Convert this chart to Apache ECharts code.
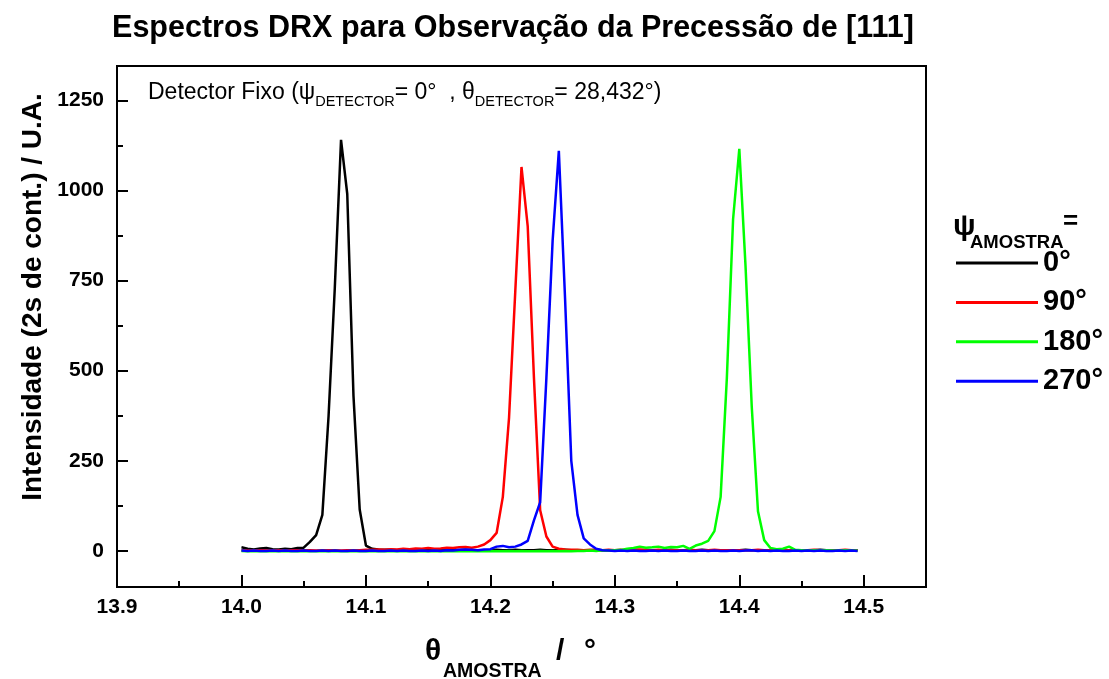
<!DOCTYPE html>
<html>
<head>
<meta charset="utf-8">
<script src="https://cdn.jsdelivr.net/npm/echarts@6/dist/echarts.min.js"></script>
<style>
  html, body { margin: 0; padding: 0; background: #ffffff; }
  #chart { width: 1109px; height: 679px; }
</style>
</head>
<body>
<div id="chart"></div>
<script>
const FONT = '"Liberation Sans", Arial, sans-serif';

// Sample angle theta (degrees), shared by all four scans
const theta = [
  14.000, 14.005, 14.010, 14.015, 14.020, 14.025, 14.030, 14.035, 14.040, 14.045,
  14.050, 14.055, 14.060, 14.065, 14.070, 14.075, 14.080, 14.085, 14.090, 14.095,
  14.100, 14.105, 14.110, 14.115, 14.120, 14.125, 14.130, 14.135, 14.140, 14.145,
  14.150, 14.155, 14.160, 14.165, 14.170, 14.175, 14.180, 14.185, 14.190, 14.195,
  14.200, 14.205, 14.210, 14.215, 14.220, 14.225, 14.230, 14.235, 14.240, 14.245,
  14.250, 14.255, 14.260, 14.265, 14.270, 14.275, 14.280, 14.285, 14.290, 14.295,
  14.300, 14.305, 14.310, 14.315, 14.320, 14.325, 14.330, 14.335, 14.340, 14.345,
  14.350, 14.355, 14.360, 14.365, 14.370, 14.375, 14.380, 14.385, 14.390, 14.395,
  14.400, 14.405, 14.410, 14.415, 14.420, 14.425, 14.430, 14.435, 14.440, 14.445,
  14.450, 14.455, 14.460, 14.465, 14.470, 14.475, 14.480, 14.485, 14.490, 14.495
];

// Counts (2 s per point) for each sample rotation psi
const psi0 = [
  10, 6, 4, 7, 8, 5, 4, 6, 5, 8,
  9, 25, 44, 100, 375, 730, 1140, 990, 430, 115,
  15, 6, 4, 3, 3, 2, 3, 2, 3, 2,
  3, 2, 2, 3, 2, 2, 3, 2, 2, 2,
  2, 3, 2, 2, 3, 2, 2, 2, 3, 2,
  2, 2, 3, 2, 2, 2, 2, 3, 2, 2,
  2, 2, 2, 3, 2, 2, 2, 2, 2, 3,
  2, 2, 2, 2, 3, 2, 2, 2, 2, 2,
  2, 3, 2, 2, 2, 2, 3, 2, 2, 2,
  2, 2, 2, 3, 2, 2, 2, 2, 2, 2
];
const psi90 = [
  2, 1, 2, 2, 1, 2, 2, 1, 2, 2,
  2, 2, 1, 2, 2, 2, 1, 2, 2, 2,
  3, 3, 4, 3, 5, 4, 6, 5, 7, 6,
  8, 6, 7, 9, 8, 10, 11, 9, 12, 18,
  30, 50, 150, 370, 720, 1065, 900, 480, 113, 40,
  12, 6, 4, 3, 3, 2, 3, 2, 2, 3,
  2, 3, 2, 3, 4, 3, 2, 3, 2, 2,
  2, 2, 3, 2, 2, 2, 3, 2, 2, 2,
  2, 2, 2, 3, 2, 2, 4, 2, 2, 2,
  2, 2, 3, 2, 2, 2, 2, 3, 2, 2
];
const psi180 = [
  0, -1, 0, -1, -1, 0, -1, 0, -1, -1,
  0, -1, -1, 0, -1, 0, -1, -1, 0, -1,
  -1, 0, -1, -1, 0, -1, 0, -1, -1, 0,
  -1, 0, -1, 0, -1, -1, 0, -1, 0, -1,
  0, -1, -1, 0, -1, 0, -1, -1, 0, -1,
  0, -1, 0, -1, 0, 0, 1, 0, 2, 1,
  2, 3, 6, 8, 12, 9, 10, 12, 8, 11,
  10, 14, 6, 15, 20, 28, 55, 150, 480, 920,
  1115, 790, 400, 110, 30, 8, 5, 6, 12, 3,
  2, 1, 2, 1, 2, 1, 1, 2, 1, 1
];
const psi270 = [
  1, 0, 1, 0, 0, 1, 0, 1, 0, 0,
  1, 0, 0, 1, 0, 1, 0, 0, 1, 0,
  0, 1, 0, 0, 1, 0, 1, 0, 0, 1,
  0, 1, 0, 2, 1, 3, 4, 3, 2, 4,
  5, 12, 14, 10, 12, 18, 28, 85, 135, 480,
  860, 1110, 700, 250, 100, 35, 18, 6, 2, 1,
  0, 1, 0, 1, 0, 0, 1, 0, 1, 0,
  0, 1, 0, 0, 1, 0, 1, 0, 0, 1,
  0, 1, 2, 0, 1, 0, 1, 0, 0, 1,
  0, 1, 0, 1, 0, 0, 1, 0, 1, 0
];

const seriesNames = ['0°', '90°', '180°', '270°'];
const seriesValues = [psi0, psi90, psi180, psi270];
const seriesColors = ['#000000', '#ff0000', '#00ff00', '#0000ff'];

// Axis ticks
const xTickValues = [13.9, 14.0, 14.1, 14.2, 14.3, 14.4, 14.5];
const xMinorValues = [13.95, 14.05, 14.15, 14.25, 14.35, 14.45];
const yTickValues = [0, 250, 500, 750, 1000, 1250];
const yMinorValues = [125, 375, 625, 875, 1125];

const X_MIN = 13.9, X_MAX = 14.55, Y_MIN = -100, Y_MAX = 1345;
const GRID = { left: 117, right: 183, top: 66, bottom: 92 };

// Text runs with sub/superscripts: pieces laid out one after another
const measureCtx = document.createElement('canvas').getContext('2d');
function textWidth(str, size, bold) {
  measureCtx.font = (bold ? 'bold ' : '') + size + 'px ' + FONT;
  return measureCtx.measureText(str).width;
}
function textRun(x0, baseline, parts) {
  let x = x0;
  const out = [];
  parts.forEach(p => {
    const px = (p.x != null) ? p.x : x;
    out.push({
      type: 'text',
      x: px,
      y: baseline + (p.dy || 0) - 0.3 * p.size,
      silent: true,
      style: {
        text: p.t, fontSize: p.size, fontWeight: p.bold ? 'bold' : 'normal',
        fontFamily: FONT, fill: '#000', align: 'left', verticalAlign: 'middle'
      }
    });
    x = px + textWidth(p.t, p.size, p.bold);
  });
  return out;
}

const graphics = [].concat(
  // chart title
  [{
    type: 'text', x: 513, y: 38 - 0.3 * 30.5, silent: true,
    style: { text: 'Espectros DRX para Observação da Precessão de [111]', fontSize: 30.5,
      fontWeight: 'bold', fontFamily: FONT, fill: '#000', align: 'center', verticalAlign: 'middle' }
  }],
  // detector note inside the plot
  textRun(148, 100, [
    { t: 'Detector Fixo (', size: 23 },
    { t: 'ψ', size: 23 },
    { t: 'DETECTOR', size: 14.5, dy: 6 },
    { t: '= 0°  , ', size: 23 },
    { t: 'θ', size: 23 },
    { t: 'DETECTOR', size: 14.5, dy: 6 },
    { t: '= 28,432°)', size: 23 }
  ]),
  // legend heading
  textRun(953, 236, [
    { t: 'ψ', size: 30, bold: true },
    { t: 'AMOSTRA', size: 18.5, bold: true, dy: 12, x: 970 },
    { t: '=', size: 26, bold: true, dy: -6, x: 1063 }
  ]),
  // x axis title
  textRun(425, 661, [
    { t: 'θ', size: 30, bold: true },
    { t: 'AMOSTRA', size: 19.5, bold: true, dy: 16, x: 443 },
    { t: '/', size: 30, bold: true, x: 556 },
    { t: '°', size: 30, bold: true, x: 584 }
  ]),
  // y axis title
  [{
    type: 'text', x: 33, y: 297, rotation: Math.PI / 2, silent: true,
    style: { text: 'Intensidade (2s de cont.) / U.A.', fontSize: 28, fontWeight: 'bold',
      fontFamily: FONT, fill: '#000', align: 'center', verticalAlign: 'middle' }
  }]
);

const axisLineStyle = { color: '#000', width: 2 };
const labelStyle = { fontSize: 21, fontWeight: 'bold', fontFamily: FONT, color: '#000' };

const option = {
  animation: false,
  backgroundColor: '#ffffff',
  grid: [
    Object.assign({ show: true, borderColor: '#000', borderWidth: 2, backgroundColor: 'transparent' }, GRID),
    Object.assign({ show: false }, GRID)
  ],
  xAxis: [
    {
      type: 'value', gridIndex: 0, min: X_MIN, max: X_MAX, position: 'bottom',
      axisLine: { show: true, onZero: false, lineStyle: axisLineStyle },
      axisTick: { show: true, inside: true, length: 12, lineStyle: axisLineStyle, customValues: xTickValues },
      axisLabel: Object.assign({ margin: 10, customValues: xTickValues, formatter: v => v.toFixed(1) }, labelStyle),
      splitLine: { show: false }
    },
    {
      type: 'value', gridIndex: 1, min: X_MIN, max: X_MAX, position: 'bottom',
      axisLine: { show: false, onZero: false },
      axisTick: { show: true, inside: true, length: 6, lineStyle: axisLineStyle, customValues: xMinorValues },
      axisLabel: { show: false },
      splitLine: { show: false }
    }
  ],
  yAxis: [
    {
      type: 'value', gridIndex: 0, min: Y_MIN, max: Y_MAX, position: 'left',
      axisLine: { show: true, onZero: false, lineStyle: axisLineStyle },
      axisTick: { show: true, inside: true, length: 11, lineStyle: axisLineStyle, customValues: yTickValues },
      axisLabel: Object.assign({ margin: 13, customValues: yTickValues, formatter: v => String(v) }, labelStyle),
      splitLine: { show: false }
    },
    {
      type: 'value', gridIndex: 1, min: Y_MIN, max: Y_MAX, position: 'left',
      axisLine: { show: false, onZero: false },
      axisTick: { show: true, inside: true, length: 6, lineStyle: axisLineStyle, customValues: yMinorValues },
      axisLabel: { show: false },
      splitLine: { show: false }
    }
  ],
  legend: {
    data: seriesNames,
    orient: 'vertical',
    left: 951, top: 243,
    icon: 'rect', itemWidth: 82, itemHeight: 3, itemGap: 9.4,
    textStyle: { fontSize: 29, fontWeight: 'bold', fontFamily: FONT, color: '#000', lineHeight: 30 },
    selectedMode: false
  },
  graphic: graphics,
  series: seriesNames.map((name, k) => ({
    name: name,
    type: 'line',
    xAxisIndex: 0, yAxisIndex: 0,
    data: theta.map((t, i) => [t, seriesValues[k][i]]),
    showSymbol: false,
    symbol: 'none',
    color: seriesColors[k],
    lineStyle: { color: seriesColors[k], width: 2.5 },
    clip: true
  }))
};

const chart = echarts.init(document.getElementById('chart'), null, { renderer: 'canvas' });
chart.setOption(option);
</script>
</body>
</html>
